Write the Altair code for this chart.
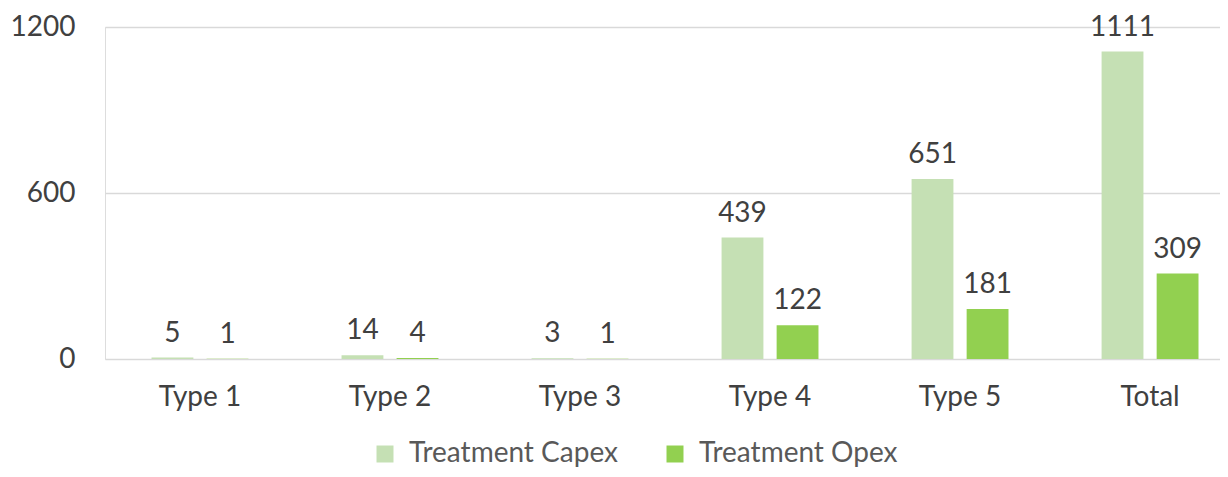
import altair as alt
import pandas as pd

categories = ["Type 1", "Type 2", "Type 3", "Type 4", "Type 5", "Total"]
capex = [5, 14, 3, 439, 651, 1111]
opex = [1, 4, 1, 122, 181, 309]
series_names = ["Treatment Capex", "Treatment Opex"]
colors = ["#c5e0b4", "#92d050"]

rows = []
for c, a, b in zip(categories, capex, opex):
    rows.append({"cat": c, "series": series_names[0], "value": a})
    rows.append({"cat": c, "series": series_names[1], "value": b})
df = pd.DataFrame(rows)

FONT = "Lato"
TXT = "#404040"

x = alt.X("cat:N", sort=categories, title=None,
          scale=alt.Scale(paddingInner=0.49, paddingOuter=0.179, align=0.684),
          axis=alt.Axis(labelAngle=0, domain=False, ticks=False, labelPadding=24,
                        labelFontSize=28, labelFont=FONT, labelColor=TXT))
xo = alt.XOffset("series:N", sort=series_names, scale=alt.Scale(paddingInner=0.24))
y = alt.Y("value:Q", title=None,
          scale=alt.Scale(domain=[0, 1200], nice=False),
          axis=alt.Axis(values=[0, 600, 1200], format="d", domain=False, ticks=False,
                        labelPadding=30, labelFontSize=28, labelFont=FONT,
                        labelColor=TXT, gridColor="#d9d9d9", gridWidth=1.5))
color = alt.Color("series:N", sort=series_names,
                  scale=alt.Scale(domain=series_names, range=colors),
                  legend=alt.Legend(title=None, orient="none", direction="horizontal",
                                    legendX=266, legendY=413, symbolType="square",
                                    symbolSize=289, symbolStrokeWidth=0, labelLimit=0,
                                    labelFontSize=28, labelFont=FONT, labelColor="#595959",
                                    labelOffset=10, columnPadding=43))

base = alt.Chart(df).encode(x=x, xOffset=xo, y=y)
bars = base.mark_bar().encode(color=color)
labels = base.mark_text(baseline="alphabetic", dy=-16, fontSize=28, font=FONT,
                        color=TXT).encode(text="value:Q")

chart = (bars + labels).properties(
    width=1115, height=332,
    autosize=alt.AutoSizeParams(type="none"),
    padding={"left": 97, "top": 19, "right": 0, "bottom": 110},
).configure_view(stroke=None).configure(background="white")

chart.save("out.html", embed_options={"renderer": "svg", "actions": False})
